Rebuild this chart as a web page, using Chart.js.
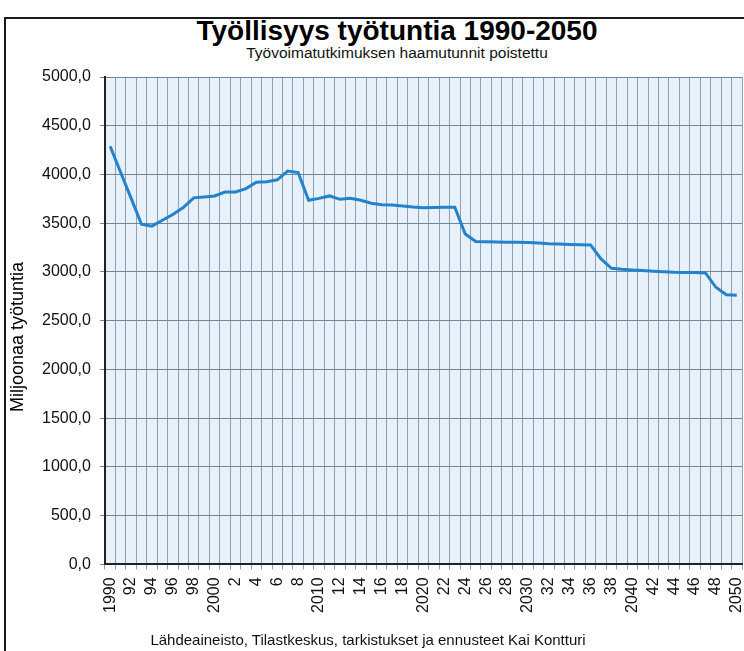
<!DOCTYPE html>
<html>

<head>
  <meta charset="utf-8">
  <title>Työllisyys työtuntia 1990-2050</title>
  <style>
    body { margin: 0; background: #fff; }
    #wrap { position: relative; width: 744px; height: 651px; overflow: hidden; background: #fff; font-family: "Liberation Sans", Arial, sans-serif; }
    #frame { position: absolute; left: 4px; top: 17px; width: 800px; height: 700px; border-left: 2px solid #1a1a1a; border-top: 2px solid #1a1a1a; }
    #chart_box { position: absolute; left: 0; top: 0; width: 744px; height: 651px; }
    .txt { position: absolute; left: 0; width: 794px; text-align: center; line-height: 1; white-space: nowrap; }
    #main_title { top: 17px; font-size: 28px; font-weight: bold; color: #000; }
    #sub_title { top: 45px; font-size: 15.5px; color: #111; }
    #footer { top: 632px; width: 736px; font-size: 15px; color: #111; }
    #y_title { left: -83px; top: 327px; width: 200px; height: 20px; line-height: 20px; font-size: 18px; color: #000; transform: rotate(-90deg); }
  </style>
</head>

<body>
  <div id="wrap">
    <div id="frame"></div>
    <div class="txt" id="main_title">Työllisyys työtuntia 1990-2050</div>
    <div class="txt" id="sub_title">Työvoimatutkimuksen haamutunnit poistettu</div>
    <div id="chart_box"><canvas id="work_hours"></canvas></div>
    <div class="txt" id="y_title">Miljoonaa työtuntia</div>
    <div class="txt" id="footer">Lähdeaineisto, Tilastkeskus, tarkistukset ja ennusteet Kai Kontturi</div>
  </div>

  <script src="https://cdn.jsdelivr.net/npm/chart.js@4.4.1/dist/chart.umd.min.js"></script>

  <script>
    // years on the x axis
    let years = ["1990","1991","1992","1993","1994","1995","1996","1997","1998","1999",
      "2000","2001","2002","2003","2004","2005","2006","2007","2008","2009",
      "2010","2011","2012","2013","2014","2015","2016","2017","2018","2019",
      "2020","2021","2022","2023","2024","2025","2026","2027","2028","2029",
      "2030","2031","2032","2033","2034","2035","2036","2037","2038","2039",
      "2040","2041","2042","2043","2044","2045","2046","2047","2048","2049","2050"];
    // labels shown under the axis (every second year)
    let year_labels = ["1990","","92","","94","","96","","98","",
      "2000","","2","","4","","6","","8","",
      "2010","","12","","14","","16","","18","",
      "2020","","22","","24","","26","","28","",
      "2030","","32","","34","","36","","38","",
      "2040","","42","","44","","46","","48","","2050"];
    // million working hours
    let hours = [4290,4023,3757,3490,3470,3530,3590,3660,3760,3770,
      3780,3820,3820,3855,3920,3925,3945,4035,4020,3735,
      3755,3780,3745,3755,3735,3705,3690,3688,3676,3666,
      3660,3662,3665,3665,3390,3312,3309,3307,3305,3304,
      3302,3297,3290,3286,3282,3280,3277,3134,3038,3028,
      3021,3015,3008,3002,2997,2995,2994,2990,2843,2767,2760];

    let font_family = "'Liberation Sans', Arial, sans-serif";

    // light blue plot background
    const plot_bg = {
      id: "plot_bg",
      beforeDraw(chart) {
        const a = chart.chartArea;
        const ctx = chart.ctx;
        ctx.save();
        ctx.fillStyle = "#e8f1f9";
        ctx.fillRect(a.left, a.top, a.right - a.left, a.bottom - a.top);
        ctx.restore();
      }
    };

    var canvas = document.getElementById("work_hours");
    new Chart(canvas, {
      type: "line",
      data: {
        labels: years,
        datasets: [{
          data: hours,
          borderColor: "#2282cb",
          borderWidth: 3,
          pointRadius: 0,
          tension: 0,
        }],
      },
      options: {
        responsive: true,
        maintainAspectRatio: false,
        animation: false,
        layout: { padding: { left: 33, right: 2, top: 77, bottom: 30 } },
        plugins: {
          legend: { display: false },
          tooltip: { enabled: false },
        },
        scales: {
          x: {
            offset: true,
            grid: { offset: true, color: "#8aa2b3", tickLength: 5, drawTicks: true },
            border: { display: true, color: "#222", width: 2 },
            ticks: {
              autoSkip: false,
              maxRotation: 90,
              minRotation: 90,
              padding: 8,
              color: "#111",
              font: { family: font_family, size: 16 },
              callback: function(value, index) { return year_labels[index]; },
            },
            // keep the plot running up to the right edge, like the original
            afterFit: function(scale) { scale.paddingLeft = 0; scale.paddingRight = 0; },
          },
          y: {
            min: 0,
            max: 5000,
            grid: { color: "#6f8798", tickLength: 5 },
            border: { display: true, color: "#222", width: 2 },
            ticks: {
              stepSize: 500,
              padding: 9,
              color: "#111",
              font: { family: font_family, size: 16 },
              callback: function(value) { return value.toFixed(1).replace(".", ","); },
            },
          },
        },
      },
      plugins: [plot_bg],
    });
  </script>

</body>
</html>
